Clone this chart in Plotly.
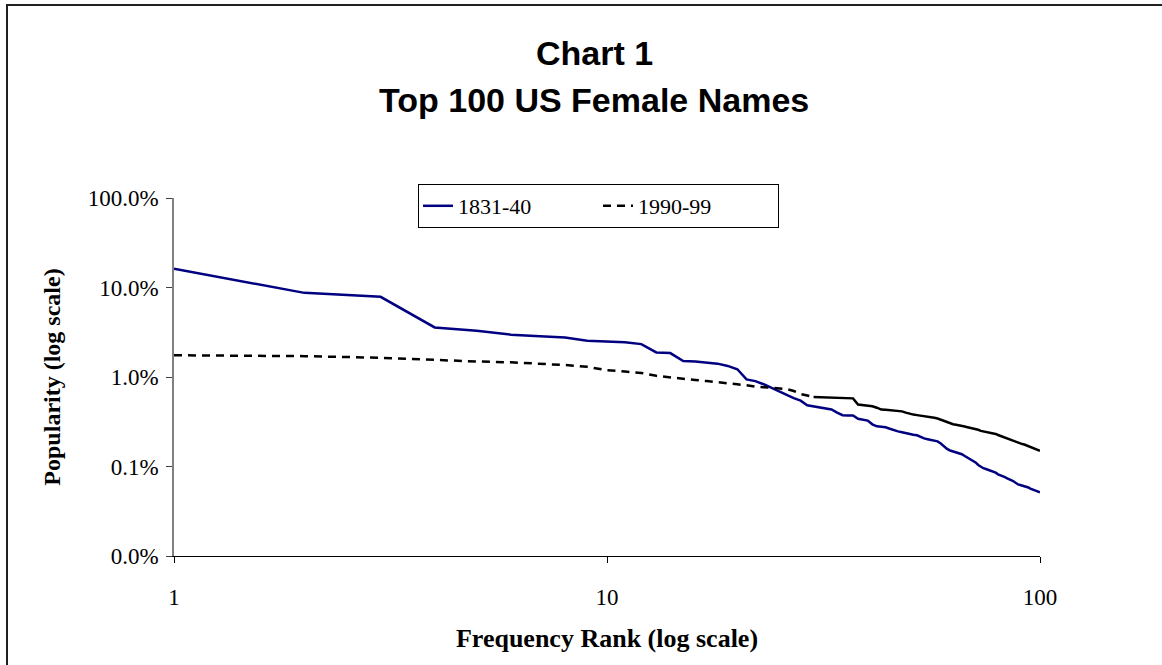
import plotly.graph_objects as go

# ---------------- data ----------------
ranks = list(range(1, 101))

# popularity in percent of all females, by frequency rank
pop_1831_40 = [
    16.2, 8.71, 7.87, 3.58, 3.29, 2.97, 2.85, 2.77, 2.54, 2.49,
    2.45, 2.33, 1.88, 1.85, 1.51, 1.49, 1.46, 1.41, 1.33, 1.22,
    0.94, 0.90, 0.83, 0.75, 0.69, 0.63, 0.58, 0.544, 0.484, 0.47,
    0.454, 0.442, 0.433, 0.399, 0.374, 0.372, 0.371, 0.342, 0.333, 0.326,
    0.296, 0.281, 0.278, 0.274, 0.264, 0.254, 0.247, 0.241, 0.235, 0.229,
    0.226, 0.223, 0.214, 0.206, 0.202, 0.199, 0.196, 0.191, 0.181, 0.168,
    0.157, 0.151, 0.147, 0.144, 0.141, 0.137, 0.131, 0.126, 0.122, 0.117,
    0.111, 0.104, 0.0996, 0.0957, 0.0938, 0.0920, 0.0896, 0.0881, 0.0853, 0.0818,
    0.0802, 0.0784, 0.0760, 0.0737, 0.0710, 0.0698, 0.0680, 0.0654, 0.0630, 0.0622,
    0.0614, 0.0606, 0.0598, 0.0583, 0.0566, 0.0554, 0.0547, 0.0533, 0.0524, 0.0514,
]

pop_1990_99 = [
    1.75, 1.71, 1.64, 1.55, 1.49, 1.46, 1.41, 1.36, 1.30, 1.19,
    1.15, 1.11, 1.03, 0.987, 0.95, 0.925, 0.90, 0.87, 0.84, 0.828,
    0.81, 0.78, 0.77, 0.76, 0.75, 0.733, 0.697, 0.645, 0.62, 0.596,
    0.592, 0.590, 0.587, 0.585, 0.582, 0.580, 0.577, 0.493, 0.487, 0.479,
    0.470, 0.454, 0.433, 0.430, 0.425, 0.420, 0.415, 0.413, 0.400, 0.387,
    0.380, 0.375, 0.371, 0.367, 0.363, 0.356, 0.350, 0.344, 0.333, 0.321,
    0.310, 0.300, 0.297, 0.293, 0.290, 0.285, 0.280, 0.275, 0.270, 0.269,
    0.263, 0.257, 0.250, 0.247, 0.245, 0.243, 0.240, 0.237, 0.231, 0.225,
    0.220, 0.215, 0.210, 0.205, 0.200, 0.194, 0.190, 0.187, 0.183, 0.180,
    0.178, 0.176, 0.172, 0.169, 0.165, 0.162, 0.159, 0.155, 0.153, 0.150,
]

series_names = ["1831-40", "1990-99"]
x_tick_vals = [1, 10, 100]
x_tick_text = ["1", "10", "100"]
y_tick_vals = [0.01, 0.1, 1, 10, 100]
y_tick_text = ["0.0%", "0.1%", "1.0%", "10.0%", "100.0%"]

# ---------------- figure ----------------
SERIF = "Liberation Serif, Times New Roman, serif"
SANS = "Liberation Sans, Arial, sans-serif"

# plot-area geometry in pixels
L, R, T, B = 174, 1040, 198, 556
W, H = 1162, 665
PW, PH = R - L, B - T


def px(x):
    return (x - L) / PW


def py(y):
    return (B - y) / PH


# index from which the dense part of the 1990-99 line is drawn solid (as in the source)
split = 29

fig = go.Figure()
fig.add_trace(go.Scatter(
    x=ranks, y=pop_1831_40, mode="lines", name=series_names[0],
    line=dict(color="#000080", width=2.5),
))
fig.add_trace(go.Scatter(
    x=ranks[:split + 1], y=pop_1990_99[:split + 1], mode="lines", name=series_names[1],
    legendgroup="b", line=dict(color="#000000", width=2.5, dash="8px,6px"),
))
fig.add_trace(go.Scatter(
    x=ranks[split:], y=pop_1990_99[split:], mode="lines", name=series_names[1],
    legendgroup="b", showlegend=False, line=dict(color="#000000", width=2.5),
))

border = dict(color="#202020", width=2)

fig.update_layout(
    width=W, height=H,
    margin=dict(l=L, r=W - R, t=T, b=H - B, autoexpand=False),
    paper_bgcolor="white", plot_bgcolor="white",
    font=dict(family=SERIF, color="black", size=21),
    showlegend=True,
    legend=dict(
        orientation="h", x=px(418), y=py(184), xanchor="left", yanchor="top",
        bgcolor="white", bordercolor="black", borderwidth=1,
        font=dict(family=SERIF, size=22, color="black"),
        entrywidth=135, entrywidthmode="pixels", itemwidth=30,
    ),
    xaxis=dict(
        type="log", range=[0, 2], tickmode="array",
        tickvals=x_tick_vals, ticktext=x_tick_text,
        ticks="outside", ticklen=6, tickcolor="black", tickwidth=1,
        showline=True, linecolor="black", linewidth=1,
        showgrid=False, zeroline=False,
        tickfont=dict(family=SERIF, size=23, color="black"),
        ticklabelstandoff=14,
        title=dict(text="<b>Frequency Rank (log scale)</b>",
                   font=dict(family=SERIF, size=26, color="black"), standoff=20),
    ),
    yaxis=dict(
        type="log", range=[-2, 2], tickmode="array",
        tickvals=y_tick_vals, ticktext=y_tick_text,
        ticks="outside", ticklen=6, tickcolor="#404040", tickwidth=1,
        showline=True, linecolor="#808080", linewidth=1.5,
        showgrid=False, zeroline=False,
        tickfont=dict(family=SERIF, size=23, color="black"),
        ticklabelstandoff=3,
        title=dict(text="<b>Popularity (log scale)</b>",
                   font=dict(family=SERIF, size=24, color="black"), standoff=20),
    ),
    annotations=[
        dict(text="<b>Chart 1</b>", xref="paper", yref="paper", x=px(594), y=py(53),
             xanchor="center", yanchor="middle", showarrow=False,
             font=dict(family=SANS, size=34, color="black")),
        dict(text="<b>Top 100 US Female Names</b>", xref="paper", yref="paper",
             x=px(594), y=py(100), xanchor="center", yanchor="middle", showarrow=False,
             font=dict(family=SANS, size=34, color="black")),
    ],
    shapes=[
        # chart-area frame (top and left edges are the only ones inside the picture)
        dict(type="line", xref="paper", yref="paper",
             x0=px(6), x1=px(1300), y0=py(5), y1=py(5), line=border, layer="below"),
        dict(type="line", xref="paper", yref="paper",
             x0=px(7), x1=px(7), y0=py(4), y1=py(800), line=border, layer="below"),
    ],
)

fig.write_html(
    "out.html",
    config={"displayModeBar": False},
    post_script="document.body.style.margin='0';document.body.style.overflow='hidden';",
)
